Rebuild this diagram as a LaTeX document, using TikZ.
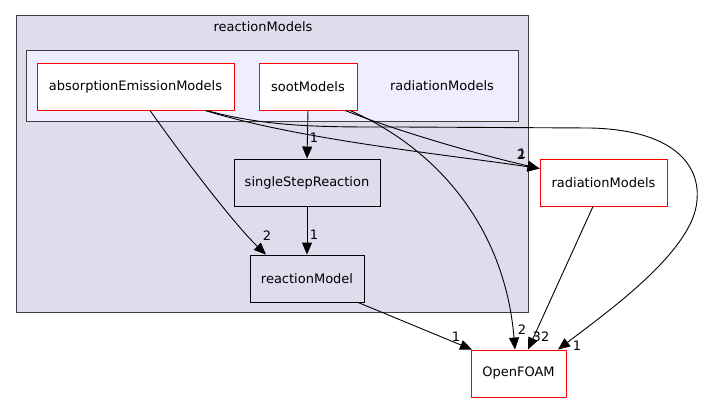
\documentclass[tikz,border=0pt]{standalone}
\usepackage{fontspec}
\setmainfont{DejaVu Sans}
\usetikzlibrary{arrows.meta}
\definecolor{clout}{HTML}{DDDDEE}
\definecolor{clin}{HTML}{EEEEFF}
\definecolor{clborder}{HTML}{404040}
\tikzset{
  base/.style={rectangle, inner sep=0pt, font=\fontsize{13}{15}\selectfont},
  rednode/.style={base, draw=red, fill=white, line width=0.9pt},
  blknode/.style={base, draw=black, fill=clout, line width=0.9pt},
  edge/.style={draw=black, line width=0.9pt, -{Triangle[length=12pt,width=10pt]}},
  elabel/.style={font=\fontsize{13}{15}\selectfont, inner sep=0pt},
  cluster/.style={draw=clborder, line width=1pt}
}
\begin{document}
\begin{tikzpicture}[x=1pt,y=-1pt]
\useasboundingbox (0,0) rectangle (702,404);
\fill[white] (0,0) rectangle (702,404);
% clusters
\draw[cluster, fill=clout] (16,16) rectangle (528,312);
\node[elabel] (lreact) at (263,27) {reactionModels};
\draw[cluster, fill=clin] (26,51) rectangle (518,121);
\node[elabel] (lrad) at (442,86) {radiationModels};
% nodes
\node[rednode, minimum width=197pt, minimum height=47pt] (abs) at (135.5,86.5) {absorptionEmissionModels};
\node[rednode, minimum width=98pt, minimum height=47pt] (soot) at (308,86.5) {sootModels};
\node[blknode, minimum width=146pt, minimum height=47pt] (ssr) at (307,182.5) {singleStepReaction};
\node[blknode, minimum width=114pt, minimum height=47pt] (rm) at (307,278.5) {reactionModel};
\node[rednode, minimum width=127pt, minimum height=47pt] (radm) at (603.5,182.5) {radiationModels};
\node[rednode, minimum width=95pt, minimum height=47pt] (of) at (518.5,373.5) {OpenFOAM};
% edges
\draw[edge] ([xshift=14.5pt]abs.south) .. controls (185,160) and (235,225) .. ([xshift=-41pt]rm.north);
\node[elabel] (l1) at (267,236) {2};
\draw[edge] ([xshift=69.5pt]abs.south) .. controls (300,140) and (450,155) .. ([yshift=14pt]radm.west);
\draw[edge] ([xshift=71pt]abs.south) .. controls (270,128) and (330,127) .. (400,127)
   -- (590,128) .. controls (680,130) and (700,170) .. (697,200)
   .. controls (694,250) and (610,310) .. ([xshift=39.5pt]of.north);
\node[elabel] (l3) at (577,346) {1};
\draw[edge] (soot.south) -- (ssr.north);
\node[elabel] (l4) at (314,138) {1};
\draw[edge] ([xshift=37pt]soot.south) .. controls (400,132) and (480,155) .. ([yshift=14pt]radm.west);
\node[elabel] (l2) at (521,155) {2};
\node[elabel] (l5) at (522,154) {1};
\draw[edge] ([xshift=42pt]soot.south) .. controls (440,150) and (505,230) .. ([xshift=-3.5pt]of.north);
\node[elabel] (l6) at (522,330) {2};
\draw[edge] (ssr.south) -- (rm.north);
\node[elabel] (l7) at (314,235) {1};
\draw[edge] ([xshift=51pt]rm.south) -- ([xshift=-46.5pt]of.north);
\node[elabel] (l8) at (456,337) {1};
\draw[edge] ([xshift=-10.5pt]radm.south) -- ([xshift=9.5pt]of.north);
\node[elabel] (l9) at (541,337) {32};
\end{tikzpicture}
\end{document}
